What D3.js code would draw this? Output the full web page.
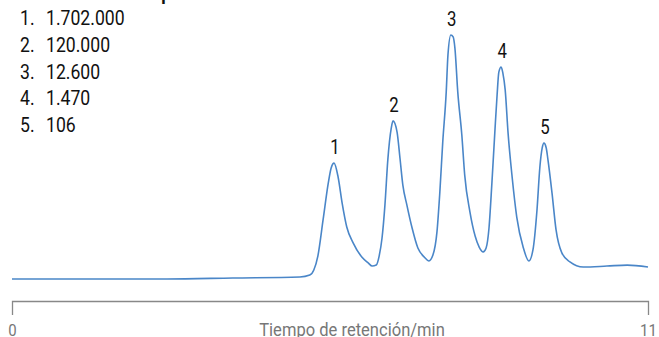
<!DOCTYPE html>
<html>
<head>
<meta charset="utf-8">
<script src="https://cdn.jsdelivr.net/npm/d3@7"></script>
<style>
  body { margin: 0; background: #fff; }
  svg { display: block; font-family: Roboto, "DejaVu Sans", sans-serif; }
</style>
</head>
<body>
<svg id="chart" width="659" height="337"></svg>
<script>
// peak list (molecular weights) shown top-left
var listTitle = "Peso molecular de picos";
var peakNums = ["1", "2", "3", "4", "5"];
var peakMW = ["1.702.000", "120.000", "12.600", "1.470", "106"];

// chromatogram trace (time in min, relative signal)
var traceTime = [0, 2.68, 3.82, 4.98, 5.15, 5.22, 5.29, 5.38, 5.47, 5.52, 5.57, 5.64, 5.71, 5.79, 5.90, 6.05, 6.16, 6.23,
  6.30, 6.35, 6.40, 6.45, 6.50, 6.56, 6.59, 6.66, 6.71, 6.76, 6.83, 6.92, 7.02, 7.13, 7.21,
  7.28, 7.35, 7.40, 7.45, 7.51, 7.54, 7.59, 7.63, 7.66, 7.71, 7.78, 7.83, 7.92, 8.01, 8.08, 8.15,
  8.20, 8.25, 8.30, 8.35, 8.39, 8.42, 8.46, 8.49, 8.53, 8.58, 8.65, 8.73, 8.84, 8.94,
  9.01, 9.08, 9.13, 9.17, 9.20, 9.24, 9.27, 9.34, 9.41, 9.51, 9.65, 9.88, 10.29, 10.64, 11.0];
var traceSignal = [0, 0, 0.4, 0.8, 1.6, 3.7, 9.4, 24.2, 39.3, 45.5, 47.5, 41.8, 31.1, 21.3, 14.8, 9.0, 6.6, 5.3,
  5.7, 9.4, 16.8, 30.3, 48.8, 61.9, 64.8, 60.2, 49.6, 38.5, 30.3, 20.9, 12.7, 9.0, 7.4,
  9.8, 19.3, 35.7, 56.1, 76.6, 91.8, 100, 99.2, 94.7, 76.6, 59.0, 42.6, 27.5, 17.6, 13.1, 11.1,
  12.7, 20.9, 39.3, 59.8, 75.4, 84.8, 86.9, 84.4, 77.5, 59.8, 41.8, 25.4, 13.1, 7.4,
  11.9, 28.3, 45.9, 53.7, 55.7, 53.7, 48.8, 35.2, 20.1, 10.7, 7.0, 4.9, 5.3, 5.7, 4.9];

// apex positions of the numbered peaks
var peakTime = [5.57, 6.59, 7.59, 8.46, 9.20];
var peakHeight = [47.5, 64.8, 100, 86.9, 55.7];

var xTicks = [0, 11];
var xTitle = "Tiempo de retención/min";

var svg = d3.select("#chart");
var x = d3.scaleLinear().domain([0, 11]).range([12, 648]);
var y = d3.scaleLinear().domain([0, 100]).range([279, 35]);

function label(parent, px, py, txt, size, color, anchor, weight, sx) {
  // Roboto squeezed horizontally to look like the condensed face of the original
  return parent.append("text")
    .attr("transform", "translate(" + px + "," + py + ") scale(" + (sx || 0.84) + ",1)")
    .attr("font-size", size)
    .attr("fill", color)
    .attr("text-anchor", anchor || "start")
    .attr("font-weight", weight || "normal")
    .text(txt);
}

// heading, cut off at the very top
label(svg, 10, 0, listTitle, 21, "#111", "start", "bold");

// list of molecular weights
peakNums.forEach(function(d, i) {
  var py = 25 + i * 26.8;
  label(svg, 20, py, d + ".", 21, "#111");
  label(svg, 46, py, peakMW[i], 21, "#111");
});

// axis: bracket with end ticks
var axis = d3.axisBottom(x).tickValues(xTicks).tickSize(0).tickSizeOuter(14).tickFormat("");
var ax = svg.append("g").attr("transform", "translate(0,301)").call(axis);
ax.select(".domain").attr("stroke", "#888").attr("stroke-width", 1.3);

xTicks.forEach(function(t) {
  label(svg, x(t) + 0.5, 335.5, String(t), 17, "#777", "middle", "normal", 0.88);
});
label(svg, 352, 335.5, xTitle, 18, "#777", "middle", "normal", 0.92);

// trace
var line = d3.line()
  .x(function(d, i) { return x(traceTime[i]); })
  .y(function(d) { return y(d); })
  .curve(d3.curveMonotoneX);
svg.append("path")
  .datum(traceSignal)
  .attr("d", line)
  .attr("fill", "none")
  .attr("stroke", "#4a86c8")
  .attr("stroke-width", 1.6);

// peak numbers
peakNums.forEach(function(d, i) {
  label(svg, x(peakTime[i]) + 1, y(peakHeight[i]) - 9, d, 20, "#111", "middle");
});
</script>
</body>
</html>
